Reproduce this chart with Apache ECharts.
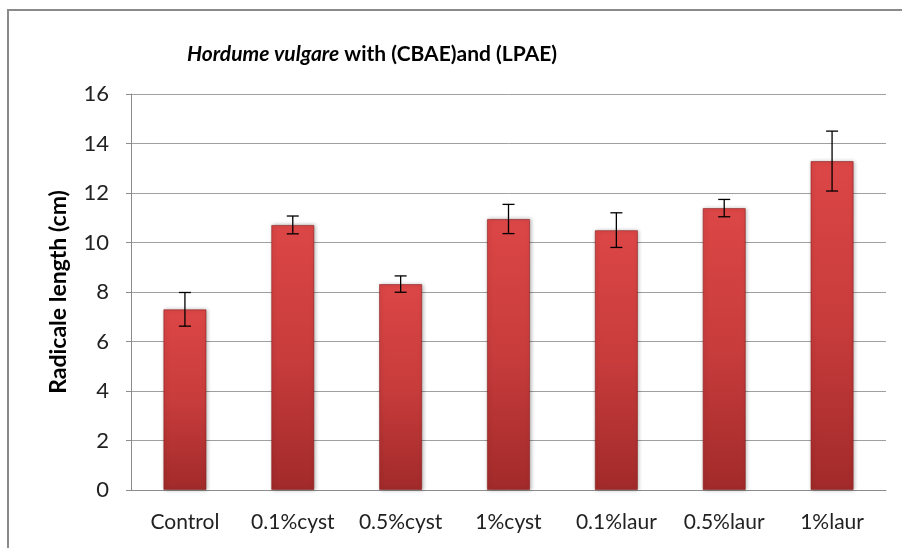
<!DOCTYPE html>
<html>
<head>
<meta charset="utf-8">
<script src="https://cdn.jsdelivr.net/npm/echarts@6/dist/echarts.min.js"></script>
<style>html,body{margin:0;padding:0;background:#fff}#c{width:902px;height:548px}</style>
</head>
<body>
<div id="c"></div>
<script>
var categories = ['Control', '0.1%cyst', '0.5%cyst', '1%cyst', '0.1%laur', '0.5%laur', '1%laur'];
var means = [7.30, 10.71, 8.32, 10.95, 10.50, 11.39, 13.29];
var errors = [0.68, 0.36, 0.33, 0.59, 0.70, 0.35, 1.21];
var yTicks = [0, 2, 4, 6, 8, 10, 12, 14, 16];

var errData = categories.map(function (c, i) { return [i, means[i] - errors[i], means[i] + errors[i]]; });

var chart = echarts.init(document.getElementById('c'));
var font = 'Lato, "Open Sans", sans-serif';
chart.setOption({
  animation: false,
  graphic: [{
    type: 'polyline', silent: true,
    shape: { points: [[8, 560], [8, 10], [910, 10]] },
    style: { stroke: '#8a8a8a', lineWidth: 2, fill: null }
  }],
  title: {
    text: '{i|Hordume vulgare} with (CBAE)and (LPAE)',
    left: 367, top: 39, textAlign: 'center',
    textStyle: {
      fontFamily: font, fontWeight: 'bold', fontSize: 21, color: '#000',
      rich: { i: { fontFamily: font, fontWeight: 'bold', fontStyle: 'italic', fontSize: 21, color: '#000' } }
    }
  },
  grid: { left: 131, right: 16, top: 94, bottom: 58 },
  xAxis: {
    type: 'category', data: categories,
    axisLine: { lineStyle: { color: '#8c8c8c', width: 1 } },
    axisTick: { show: false },
    axisLabel: { fontFamily: font, fontSize: 21, color: '#222', margin: 22, interval: 0, hideOverlap: false }
  },
  yAxis: {
    type: 'value', min: 0, max: 16, interval: 2,
    name: 'Radicale length (cm)', nameLocation: 'middle', nameGap: 61,
    nameTextStyle: { fontFamily: font, fontWeight: 'bold', fontSize: 23, color: '#000' },
    axisLine: { show: true, lineStyle: { color: '#8c8c8c', width: 1 } },
    axisTick: { show: true, length: 5, inside: false, lineStyle: { color: '#8c8c8c' } },
    axisLabel: { fontFamily: font, fontSize: 22, color: '#222', margin: 22,
      formatter: function (v) { return yTicks.indexOf(v) >= 0 ? String(v) : ''; } },
    splitLine: { lineStyle: { color: '#a0a0a0', width: 1 } }
  },
  series: [{
    type: 'bar', data: means, barWidth: '40%',
    itemStyle: {
      color: new echarts.graphic.LinearGradient(0, 0, 0, 1, [
        { offset: 0, color: '#dc4646' },
        { offset: 0.5, color: '#c83c3c' },
        { offset: 1, color: '#a22a2a' }
      ]),
      borderColor: 'rgba(140,30,30,0.6)', borderWidth: 1,
      shadowColor: 'rgba(0,0,0,0.3)', shadowBlur: 4, shadowOffsetX: 1, shadowOffsetY: 0
    }
  }, {
    type: 'custom', data: errData, z: 10,
    renderItem: function (params, api) {
      var x = api.value(0);
      var lo = api.coord([x, api.value(1)]);
      var hi = api.coord([x, api.value(2)]);
      var w = 6;
      var st = { stroke: '#000', lineWidth: 1.3 };
      return { type: 'group', children: [
        { type: 'line', shape: { x1: lo[0], y1: lo[1], x2: hi[0], y2: hi[1] }, style: st },
        { type: 'line', shape: { x1: lo[0] - w, y1: lo[1], x2: lo[0] + w, y2: lo[1] }, style: st },
        { type: 'line', shape: { x1: hi[0] - w, y1: hi[1], x2: hi[0] + w, y2: hi[1] }, style: st }
      ] };
    }
  }]
});
</script>
</body>
</html>
